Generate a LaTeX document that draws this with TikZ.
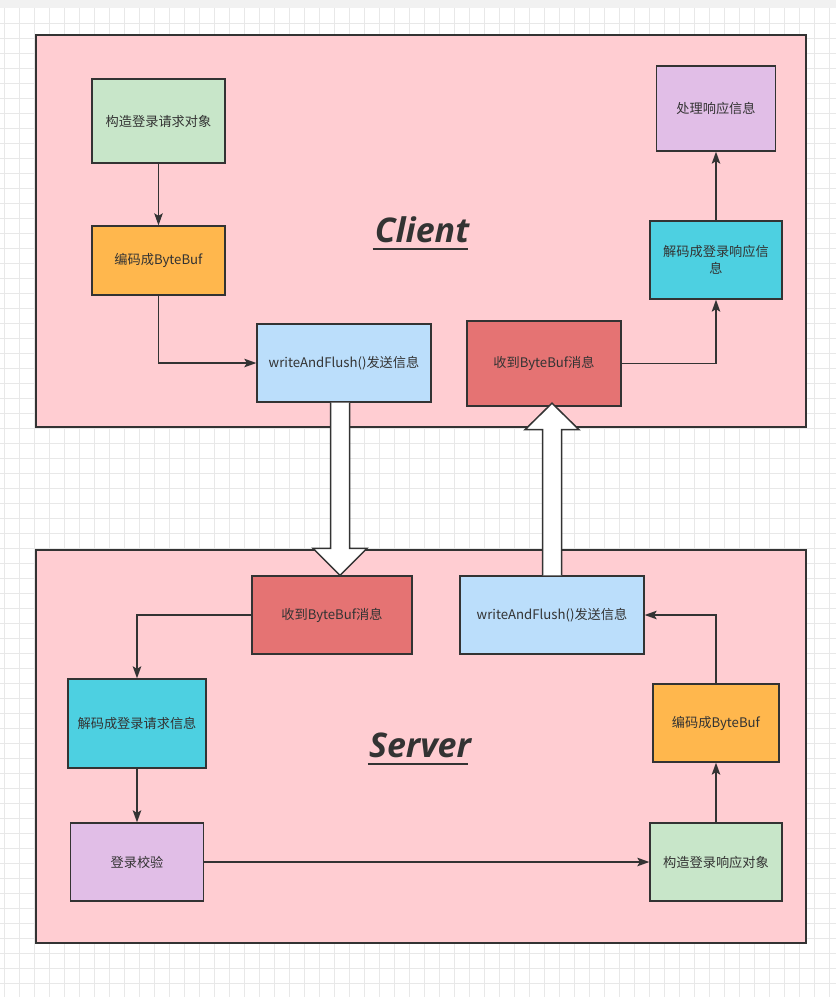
\documentclass[tikz,border=0pt]{standalone}
\usepackage{fontspec}
\newfontfamily\cjk{Noto Sans CJK SC}
\newfontfamily\titlefont{Open Sans}
\usetikzlibrary{arrows.meta,calc}
\definecolor{gridc}{HTML}{E8E8E8}
\definecolor{bandc}{HTML}{F1F1F1}
\definecolor{linec}{HTML}{333333}
\definecolor{pinkc}{HTML}{FFCDD2}
\definecolor{greenc}{HTML}{C8E6C9}
\definecolor{orangec}{HTML}{FFB74D}
\definecolor{bluec}{HTML}{BBDEFB}
\definecolor{redc}{HTML}{E57373}
\definecolor{cyanc}{HTML}{4DD0E1}
\definecolor{purplec}{HTML}{E1BEE7}
\tikzset{
  container/.style={draw=linec, fill=pinkc, line width=1.6pt, inner sep=0pt},
  stepbox/.style={draw=linec, line width=1.3pt, inner sep=0pt, align=center,
    text=linec, font=\cjk\fontsize{13.2}{17}\selectfont},
  conn/.style={draw=linec, line width=1.5pt, -{Stealth[length=12pt,width=8.5pt,inset=2.5pt]}},
  bigarrow/.style={draw=linec, fill=white, line width=1.5pt, line join=miter},
  titletext/.style={inner sep=0pt, text=linec, font=\titlefont\bfseries\itshape\fontsize{34}{40}\selectfont},
}
\begin{document}
\begin{tikzpicture}[x=1pt,y=-1pt]
\useasboundingbox (0,0) rectangle (836,997);
\fill[white] (0,0) rectangle (836,997);
\fill[bandc] (0,0) rectangle (836,8);
\foreach \x in {4,19,...,834} \draw[gridc, line width=0.8pt] (\x,8) -- (\x,997);
\foreach \y in {23,38,...,997} \draw[gridc, line width=0.8pt] (0,\y) -- (836,\y);

% containers
\node[container, minimum width=770pt, minimum height=392pt] (client) at (421,231) {};
\node[container, minimum width=770pt, minimum height=393pt] (server) at (421,746.5) {};

% titles
\node[titletext, anchor=base] (ct) at (422,242) {Client};
\draw[linec, line width=2.8pt] ($(ct.base west)+(-2,7)$) -- ($(ct.base east)+(-1,7)$);
\node[titletext, anchor=base] (st) at (420,757) {Server};
\draw[linec, line width=2.8pt] ($(st.base west)+(-1,7)$) -- ($(st.base east)+(-3,7)$);

% client nodes
\node[stepbox, fill=greenc, minimum width=133pt, minimum height=84pt] (c1) at (158.5,121) {构造登录请求对象};
\node[stepbox, fill=orangec, minimum width=133pt, minimum height=69pt] (c2) at (158.5,260.5) {编码成ByteBuf};
\node[stepbox, fill=bluec, minimum width=174pt, minimum height=78pt] (c3) at (344,363) {writeAndFlush()发送信息};
\node[stepbox, fill=redc, minimum width=154pt, minimum height=85pt] (c4) at (544,363.5) {收到ByteBuf消息};
\node[stepbox, fill=cyanc, minimum width=132pt, minimum height=78pt] (c5) at (716,260) {解码成登录响应信\\息};
\node[stepbox, fill=purplec, minimum width=119pt, minimum height=85pt] (c6) at (716,108.5) {处理响应信息};

% server nodes
\node[stepbox, fill=redc, minimum width=160pt, minimum height=78pt] (s1) at (332,615) {收到ByteBuf消息};
\node[stepbox, fill=bluec, minimum width=184pt, minimum height=78pt] (s2) at (552,615) {writeAndFlush()发送信息};
\node[stepbox, fill=cyanc, minimum width=138pt, minimum height=89pt] (s3) at (137,723.5) {解码成登录请求信息};
\node[stepbox, fill=purplec, minimum width=133pt, minimum height=78pt] (s4) at (137,862) {登录校验};
\node[stepbox, fill=greenc, minimum width=132pt, minimum height=78pt] (s5) at (716,862) {构造登录响应对象};
\node[stepbox, fill=orangec, minimum width=126pt, minimum height=78pt] (s6) at (716,723) {编码成ByteBuf};

% client connectors
\draw[conn] (c1) -- (c2);
\draw[conn] (c2.south) |- (c3.west);
\draw[conn] (c4.east) -| (c5.south);
\draw[conn] (c5) -- (c6);

% server connectors
\draw[conn] (s1.west) -| (s3.north);
\draw[conn] (s3) -- (s4);
\draw[conn] (s4) -- (s5);
\draw[conn] (s5) -- (s6);
\draw[conn] (s6.north) |- (s2.east);

% big arrows
\coordinate (dtop) at ($(c3.south)+(-4,0)$);
\coordinate (dtip) at ($(s1.north)+(8,0)$);
\draw[bigarrow] ($(dtop)+(-9.5,0)$) -- ($(dtip)+(-9.5,-27)$) -- ($(dtip)+(-27,-27)$) -- (dtip)
  -- ($(dtip)+(27,-27)$) -- ($(dtip)+(9.5,-27)$) -- ($(dtop)+(9.5,0)$);
\coordinate (ubot) at (s2.north);
\coordinate (utip) at ($(c4.south)+(8,-3.5)$);
\draw[bigarrow] ($(ubot)+(-9.5,0)$) -- ($(utip)+(-9.5,26.5)$) -- ($(utip)+(-27,26.5)$) -- (utip)
  -- ($(utip)+(27,26.5)$) -- ($(utip)+(9.5,26.5)$) -- ($(ubot)+(9.5,0)$);
\end{tikzpicture}
\end{document}
